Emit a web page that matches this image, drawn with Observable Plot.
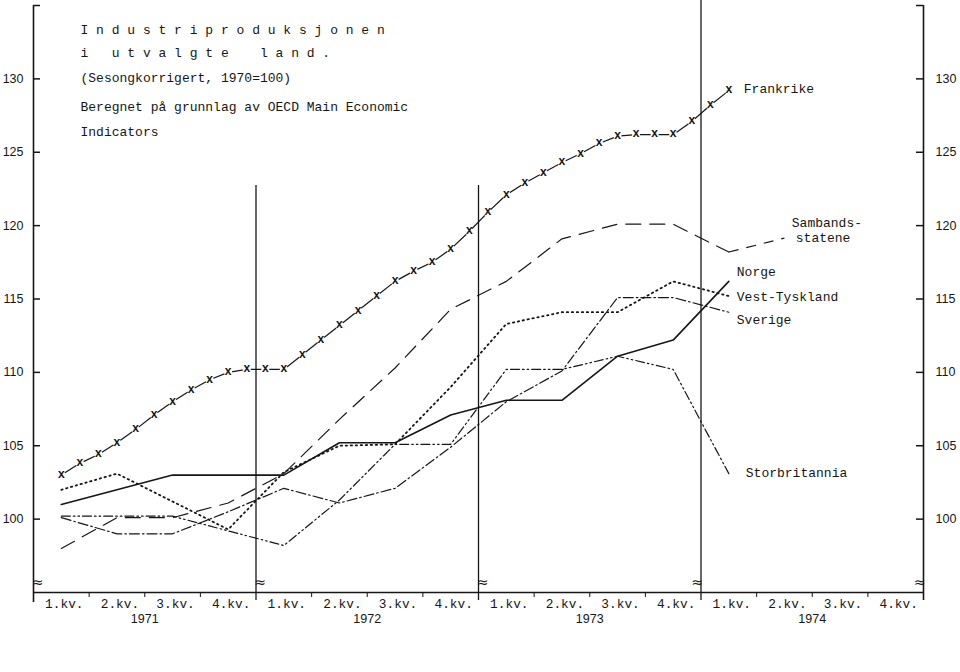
<!DOCTYPE html>
<html>
<head>
<meta charset="utf-8">
<script src="https://cdn.jsdelivr.net/npm/d3@7"></script>
<script src="https://cdn.jsdelivr.net/npm/@observablehq/plot@0.6"></script>
<style>
  html, body { margin: 0; padding: 0; background: #fff; }
  #chart svg { display: block; }
</style>
</head>
<body>
<div id="chart"></div>
<script>
// ---------- data ----------
const years = [1971, 1972, 1973, 1974];
const quarterLabels = ["1.kv.", "2.kv.", "3.kv.", "4.kv."];
const yTicks = [100, 105, 110, 115, 120, 125, 130];

// quarterly, 1971 Q1 .. 1974 Q1 (plotted at the middle month of each quarter)
const norge          = [101.0, 102.0, 103.0, 103.0, 103.0, 105.2, 105.2, 107.1, 108.1, 108.1, 111.1, 112.2, 116.2];
const sambandsstatene = [98.0, 100.1, 100.1, 101.1, 103.1, 106.8, 110.3, 114.3, 116.2, 119.1, 120.1, 120.1, 118.2];
const vestTyskland   = [102.0, 103.1, 101.2, 99.3, 103.2, 105.0, 105.1, 109.0, 113.3, 114.1, 114.1, 116.2, 115.2];
const sverige        = [100.1, 99.0, 99.0, 100.5, 102.1, 101.1, 102.1, 104.9, 108.0, 110.1, 115.1, 115.1, 114.1];
const storbritannia  = [100.2, 100.2, 100.2, 99.2, 98.2, 101.3, 105.1, 105.1, 110.2, 110.2, 111.1, 110.2, 103.1];

// monthly, Feb 1971 .. Feb 1974
const frankrike = [103.0, 103.8, 104.4, 105.2, 106.1, 107.1, 108.0, 108.8, 109.5, 110.0, 110.2, 110.2,
                   110.2, 111.2, 112.2, 113.2, 114.2, 115.2, 116.2, 116.9, 117.5, 118.4, 119.6, 120.9,
                   122.1, 122.9, 123.6, 124.3, 124.9, 125.6, 126.1, 126.2, 126.2, 126.2, 127.1, 128.2, 129.2];

const titleLines = [
  "I n d u s t r i p r o d u k s j o n e n",
  "i   u t v a l g t e    l a n d .",
  "(Sesongkorrigert, 1970=100)",
  "Beregnet på grunnlag av OECD Main Economic",
  "Indicators"
];

// ---------- build tables ----------
const quarterRows = (name, values) => values.map((v, i) => ({series: name, x: 3 * i + 1.5, y: v}));
const rowsNO = quarterRows("Norge", norge);
const rowsUS = quarterRows("Sambandsstatene", sambandsstatene);
const rowsDE = quarterRows("Vest-Tyskland", vestTyskland);
const rowsSE = quarterRows("Sverige", sverige);
const rowsGB = quarterRows("Storbritannia", storbritannia);
const rowsFR = frankrike.map((v, i) => ({series: "Frankrike", x: i + 1 + 0.5, y: v}));
const last = rows => [rows[rows.length - 1]];

const quarterCells = years.flatMap((yr, yi) => quarterLabels.map((q, qi) => ({x: yi * 12 + qi * 3 + 1.5, text: q})));
const quarterTicks = years.flatMap((yr, yi) => [3, 6, 9].map(m => yi * 12 + m));
const yearCells = years.map((yr, yi) => ({x: yi * 12 + 6, text: String(yr)}));

// ---------- layout helpers ----------
const W = 960, H = 672, mL = 33, mR = 37, mT = 5, mB = 80;
const plotBottom = H - mB;
const yAtPx = px => 95 + (plotBottom - px) * 40 / (plotBottom - mT);
const monthsForPx = px => px * 48 / (W - mL - mR);

const ink = "#161616";
const mono = "Liberation Mono";
const sans = "Liberation Sans";

const titleBaselines = [33, 56, 81, 110, 135];

const chart = Plot.plot({
  width: W, height: H,
  marginLeft: mL, marginRight: mR, marginTop: mT, marginBottom: mB,
  x: {domain: [0, 48], axis: null},
  y: {domain: [95, 135], axis: null},
  style: {background: "#fff", color: ink, fontFamily: mono, fontSize: "13px"},
  marks: [
    // frame / structure
    Plot.ruleX([0], {y1: 135, y2: yAtPx(602), stroke: ink, strokeWidth: 1.6}),
    Plot.ruleX([48], {y1: 135, y2: yAtPx(600), stroke: ink, strokeWidth: 1.6}),
    Plot.ruleX([12, 24], {y1: yAtPx(185), y2: yAtPx(600), stroke: ink, strokeWidth: 1.3}),
    Plot.ruleX([36], {y1: yAtPx(0), y2: yAtPx(600), stroke: ink, strokeWidth: 1.3}),
    Plot.ruleY([95], {x1: 0, x2: 48, stroke: ink, strokeWidth: 1.6}),
    Plot.ruleX(quarterTicks, {y1: 95, y2: yAtPx(597), stroke: ink, strokeWidth: 1}),
    Plot.ruleY([...yTicks, 135], {x1: 0, x2: monthsForPx(7), stroke: ink, strokeWidth: 1.5}),
    Plot.ruleY([...yTicks, 135], {x1: 48 - monthsForPx(7), x2: 48, stroke: ink, strokeWidth: 1.5}),

    // axis break symbols
    Plot.text([0, 12, 24], {x: d => d, frameAnchor: "bottom", text: () => "≈", dx: 4, dy: -10, lineAnchor: "middle", fontFamily: "DejaVu Sans", fontSize: 14, fill: ink}),
    Plot.text([36, 48], {x: d => d, frameAnchor: "bottom", text: () => "≈", dx: -4, dy: -10, lineAnchor: "middle", fontFamily: "DejaVu Sans", fontSize: 14, fill: ink}),

    // y tick labels
    Plot.text(yTicks, {y: d => d, text: d => String(d), frameAnchor: "left", textAnchor: "end", dx: -10, fontFamily: sans, fontSize: 12.5, fill: ink}),
    Plot.text(yTicks, {y: d => d, text: d => String(d), frameAnchor: "right", textAnchor: "start", dx: 12, fontFamily: sans, fontSize: 12.5, fill: ink}),

    // x labels
    Plot.text(quarterCells, {x: "x", text: "text", frameAnchor: "bottom", lineAnchor: "middle", dx: 3, dy: 11, fontFamily: mono, fontSize: 12.8, fill: ink}),
    Plot.text(yearCells, {x: "x", text: "text", frameAnchor: "bottom", lineAnchor: "middle", dy: 26, fontFamily: sans, fontSize: 12.5, fill: ink}),

    // title block
    ...titleLines.map((t, i) => Plot.text([t], {
      text: d => d, frameAnchor: "top-left", textAnchor: "start", lineAnchor: "bottom",
      dx: 47, dy: titleBaselines[i] - mT, fontFamily: mono, fontSize: 13, fill: ink
    })),

    // series
    Plot.line(rowsUS, {x: "x", y: "y", stroke: ink, strokeWidth: 1.2, strokeDasharray: "15,9"}),
    Plot.link(last(rowsUS), {x1: "x", y1: "y", x2: d => d.x + 3, y2: d => d.y + 0.95, stroke: ink, strokeWidth: 1.2, strokeDasharray: "10,8"}),
    Plot.line(rowsDE, {x: "x", y: "y", stroke: ink, strokeWidth: 1.8, strokeDasharray: "1.4,3.6"}),
    Plot.line(rowsSE, {x: "x", y: "y", stroke: ink, strokeWidth: 1.2, strokeDasharray: "10,3,1.6,3"}),
    Plot.line(rowsGB, {x: "x", y: "y", stroke: ink, strokeWidth: 1.2, strokeDasharray: "9,3,1.6,3,1.6,3"}),
    Plot.line(rowsNO, {x: "x", y: "y", stroke: ink, strokeWidth: 1.6}),
    Plot.line(rowsFR, {x: "x", y: "y", stroke: ink, strokeWidth: 1.2}),
    Plot.dot(rowsFR, {x: "x", y: "y", r: 4, fill: "#fff", stroke: null}),
    Plot.text(rowsFR, {x: "x", y: "y", text: () => "x", fontFamily: mono, fontSize: 12, fontWeight: "bold", lineAnchor: "middle", dy: -1, fill: ink}),

    // series labels
    Plot.text(last(rowsFR), {x: "x", y: "y", text: () => "Frankrike", textAnchor: "start", lineAnchor: "middle", dx: 15, dy: -2, fontFamily: mono, fontSize: 13, fill: ink}),
    Plot.text(last(rowsUS), {x: "x", y: "y", text: () => "Sambands-", textAnchor: "start", lineAnchor: "middle", dx: 63, dy: -29, fontFamily: mono, fontSize: 13, fill: ink}),
    Plot.text(last(rowsUS), {x: "x", y: "y", text: () => "statene", textAnchor: "start", lineAnchor: "middle", dx: 67, dy: -14, fontFamily: mono, fontSize: 13, fill: ink}),
    Plot.text(last(rowsNO), {x: "x", y: "y", text: () => "Norge", textAnchor: "start", lineAnchor: "middle", dx: 8, dy: -10, fontFamily: mono, fontSize: 13, fill: ink}),
    Plot.text(last(rowsDE), {x: "x", y: "y", text: () => "Vest-Tyskland", textAnchor: "start", lineAnchor: "middle", dx: 8, dy: 1, fontFamily: mono, fontSize: 13, fill: ink}),
    Plot.text(last(rowsSE), {x: "x", y: "y", text: () => "Sverige", textAnchor: "start", lineAnchor: "middle", dx: 8, dy: 8, fontFamily: mono, fontSize: 13, fill: ink}),
    Plot.text(last(rowsGB), {x: "x", y: "y", text: () => "Storbritannia", textAnchor: "start", lineAnchor: "middle", dx: 17, dy: -1, fontFamily: mono, fontSize: 13, fill: ink})
  ]
});

document.getElementById("chart").append(chart);
</script>
</body>
</html>
